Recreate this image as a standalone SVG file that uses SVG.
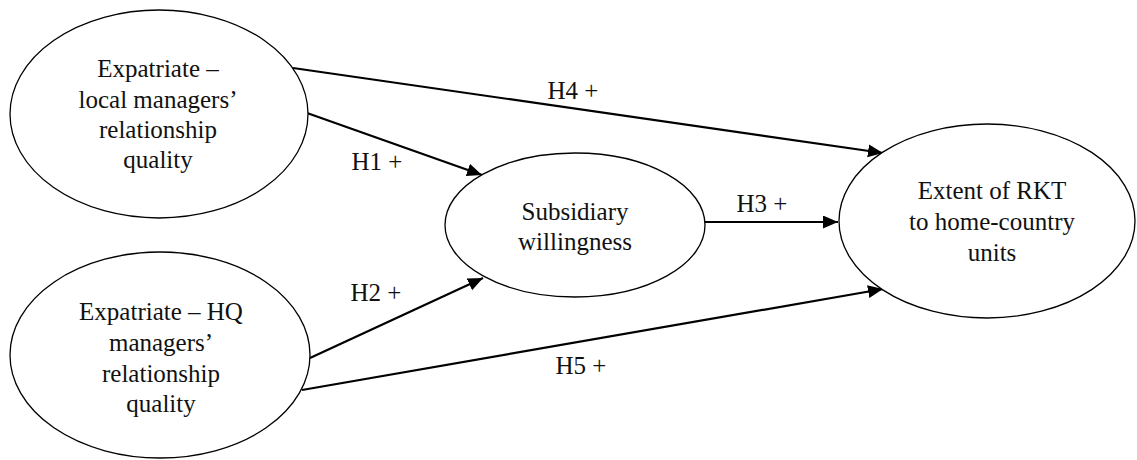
<svg xmlns="http://www.w3.org/2000/svg" width="1137" height="460" viewBox="0 0 1137 460">
  <style>
    .node ellipse { fill: #ffffff; stroke: #000000; stroke-width: 1.3; }
    .node text, .lbl { font-family: "Liberation Serif", "Times New Roman", serif; font-size: 25px; fill: #111111; text-anchor: middle; }
    .conn line { stroke: #000000; stroke-width: 2.2; marker-end: url(#arrow); }
  </style>
  <defs>
    <marker id="arrow" markerUnits="userSpaceOnUse" markerWidth="16" markerHeight="14" refX="15" refY="6.5" orient="auto">
      <path d="M0,0 L15,6.5 L0,13 z" fill="#000000"/>
    </marker>
  </defs>
  <rect width="1137" height="460" fill="#ffffff"/>

  <g id="connectors" class="conn">
    <line id="h4" x1="293" y1="68" x2="883" y2="153"/>
    <line id="h1" x1="307" y1="113" x2="482" y2="175"/>
    <line id="h2" x1="310" y1="358" x2="483" y2="278"/>
    <line id="h5" x1="302" y1="390" x2="883" y2="289"/>
    <line id="h3" x1="705" y1="222" x2="838" y2="222"/>
  </g>

  <g id="labels">
    <text class="lbl" x="573" y="99">H4 +</text>
    <text class="lbl" x="377" y="170">H1 +</text>
    <text class="lbl" x="376" y="301">H2 +</text>
    <text class="lbl" x="762" y="212">H3 +</text>
    <text class="lbl" x="581" y="374">H5 +</text>
  </g>

  <g id="node-local" class="node">
    <ellipse cx="159" cy="114" rx="149" ry="104"/>
    <text x="158" y="77">Expatriate –</text>
    <text x="158" y="108">local managers’</text>
    <text x="158" y="138">relationship</text>
    <text x="158" y="168">quality</text>
  </g>

  <g id="node-hq" class="node">
    <ellipse cx="160" cy="355" rx="150" ry="103"/>
    <text x="161" y="320">Expatriate – HQ</text>
    <text x="161" y="351">managers’</text>
    <text x="161" y="382">relationship</text>
    <text x="161" y="412">quality</text>
  </g>

  <g id="node-willingness" class="node">
    <ellipse cx="575" cy="225" rx="130" ry="72"/>
    <text x="575" y="220">Subsidiary</text>
    <text x="575" y="250">willingness</text>
  </g>

  <g id="node-rkt" class="node">
    <ellipse cx="987" cy="221" rx="148" ry="97"/>
    <text x="992" y="199">Extent of RKT</text>
    <text x="992" y="230">to home-country</text>
    <text x="992" y="261">units</text>
  </g>
</svg>
